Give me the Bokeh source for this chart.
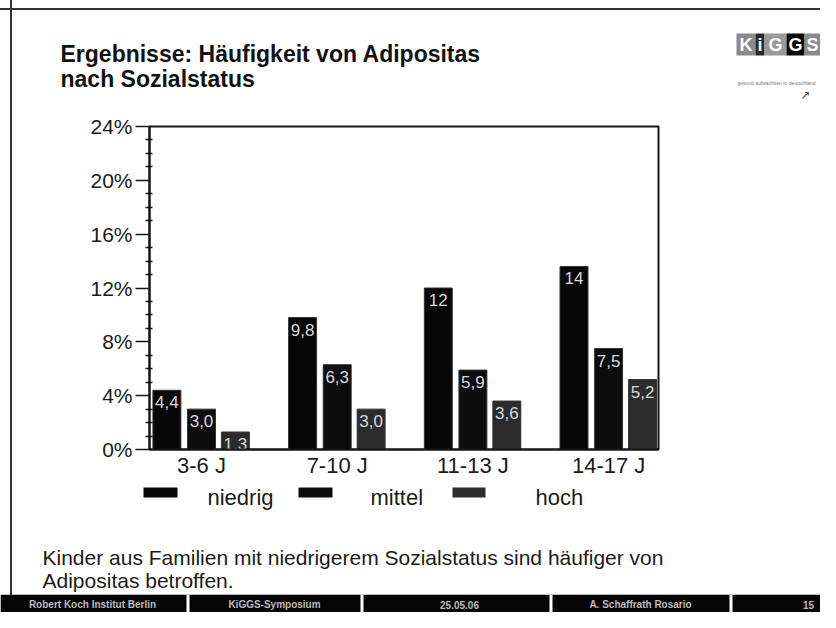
from bokeh.plotting import figure
from bokeh.layouts import column
from bokeh.models import FixedTicker, Range1d, ColumnDataSource
from bokeh.embed import file_html
from bokeh.resources import INLINE
from bokeh.core.properties import value

# ---------------- data ----------------
categories = ["3-6 J", "7-10 J", "11-13 J", "14-17 J"]
series_names = ["niedrig", "mittel", "hoch"]
niedrig = [4.4, 9.8, 12.0, 13.6]
mittel = [3.0, 6.3, 5.9, 7.5]
hoch = [1.3, 3.0, 3.6, 5.2]
niedrig_labels = ["4,4", "9,8", "12", "14"]
mittel_labels = ["3,0", "6,3", "5,9", "7,5"]
hoch_labels = ["1,3", "3,0", "3,6", "5,2"]
y_ticks = [0, 4, 8, 12, 16, 20, 24]
y_tick_labels = ["0%", "4%", "8%", "12%", "16%", "20%", "24%"]
y_minor = [1, 2, 3, 5, 6, 7, 9, 10, 11, 13, 14, 15, 17, 18, 19, 21, 22, 23]

title_lines = ["Ergebnisse: Häufigkeit von Adipositas", "nach Sozialstatus"]
caption_lines = ["Kinder aus Familien mit niedrigerem Sozialstatus sind häufiger von",
                 "Adipositas betroffen."]
footer_texts = ["Robert Koch Institut Berlin", "KiGGS-Symposium", "25.05.06",
                "A. Schaffrath Rosario", "15"]
logo_letters = ["K", "i", "G", "G", "S"]

# ---------------- layout (pixel positions) ----------------
W = 820
A_TOP, B_TOP, C_TOP, D_TOP, BOTTOM = 0, 110, 480, 594, 612
FL, FR, FT, FB = 149, 658, 126, 452          # plot frame
G0, GSTEP = 201, 135.7                         # first group centre, group step
X_LO = (FL - G0) / GSTEP
X_HI = (FR - G0) / GSTEP
Y_MAX = 24
BAR_W = 0.206
OFFS = [-0.255, 0.0, 0.25]
FONT = "Liberation Sans"
colors = ["#060606", "#0d0d0d", "#2c2c2c"]


def aux_fig(top, bottom):
    f = figure(width=W, height=bottom - top, output_backend="svg", toolbar_location=None,
               x_range=Range1d(0, W), y_range=Range1d(bottom, top),
               x_axis_location=None, y_axis_location=None, min_border=0,
               frame_align=False)
    f.xgrid.visible = False
    f.ygrid.visible = False
    f.outline_line_color = None
    f.border_fill_alpha = 0
    f.background_fill_alpha = 0
    return f


# ---------------- header ----------------
fa = aux_fig(A_TOP, B_TOP)
fa.text(x=[60, 60], y=[53, 78], text=title_lines, text_font=value(FONT),
        text_font_style="bold", text_font_size="23px", text_color="#111111",
        text_baseline="alphabetic")
logo_l = [736, 755, 764, 786, 804]
logo_r = [755, 764, 786, 804, 820]
logo_c = ["#8a8a8a", "#2a2a2a", "#9a9a9a", "#0a0a0a", "#8a8a8a"]
fa.quad(left=logo_l, right=logo_r, top=[33] * 5, bottom=[55] * 5,
        fill_color=logo_c, line_color=None)
fa.text(x=[(a + b) / 2 for a, b in zip(logo_l, logo_r)], y=[44] * 5, text=logo_letters,
        text_font=value(FONT), text_font_style="bold", text_font_size="18px",
        text_color="white", text_align="center", text_baseline="middle")
fa.text(x=[737], y=[82], text=["gesund aufwachsen in deutschland"], text_font=value(FONT),
        text_font_size="5px", text_color="#777777", text_baseline="middle")
fa.text(x=[805], y=[94], text=["↗"], text_font=value("DejaVu Sans"), text_font_size="12px",
        text_color="#444444", text_align="center", text_baseline="middle")

# ---------------- chart ----------------
p = figure(width=W, height=C_TOP - B_TOP, output_backend="svg", toolbar_location=None,
           x_range=Range1d(X_LO, X_HI), y_range=Range1d(0, Y_MAX),
           min_border_left=FL, min_border_right=W - FR,
           min_border_top=FT - B_TOP, min_border_bottom=C_TOP - FB,
           frame_align=False)
p.xgrid.visible = False
p.ygrid.visible = False
p.background_fill_color = "white"
p.border_fill_alpha = 0
p.outline_line_color = "#151515"
p.outline_line_width = 2

series = [niedrig, mittel, hoch]
labels = [niedrig_labels, mittel_labels, hoch_labels]
for vals, labs, off, col in zip(series, labels, OFFS, colors):
    xs = [i + off for i in range(len(categories))]
    src = ColumnDataSource(dict(x=xs, top=vals, lab=labs))
    p.vbar(x="x", top="top", width=BAR_W, bottom=0, source=src,
           fill_color=col, line_color="#333333", line_width=1)
    p.text(x="x", y="top", text="lab", source=src, text_align="center",
           text_baseline="top", y_offset=6, text_color="#d9d9d9",
           text_font=value(FONT), text_font_size="17px")

xa = p.xaxis[0]
xa.ticker = FixedTicker(ticks=list(range(len(categories))))
xa.major_label_overrides = {i: c for i, c in enumerate(categories)}
xa.major_tick_line_color = None
xa.minor_tick_line_color = None
xa.major_tick_out = 0
xa.major_tick_in = 0
xa.minor_tick_out = 0
xa.minor_tick_in = 0
xa.axis_line_width = 2
xa.axis_line_color = "#151515"
xa.major_label_text_font = FONT
xa.major_label_text_font_size = "22px"
xa.major_label_text_color = "#1a1a1a"
xa.major_label_standoff = 3

ya = p.yaxis[0]
ya.ticker = FixedTicker(ticks=y_ticks, minor_ticks=y_minor)
ya.major_label_overrides = {t: l for t, l in zip(y_ticks, y_tick_labels)}
ya.axis_line_width = 2
ya.axis_line_color = "#151515"
ya.major_tick_out = 14
ya.major_tick_in = 0
ya.major_tick_line_width = 1.5
ya.major_tick_line_color = "#151515"
ya.minor_tick_out = 4
ya.minor_tick_in = 3
ya.minor_tick_line_width = 1.5
ya.minor_tick_line_color = "#151515"
ya.major_label_text_font = FONT
ya.major_label_text_font_size = "21px"
ya.major_label_text_color = "#1a1a1a"
ya.major_label_standoff = 3

# ---------------- legend + caption ----------------
fc = aux_fig(C_TOP, D_TOP)
leg_l = [143, 298, 452]
leg_r = [177, 332, 485]
leg_tx = [207, 370, 535]
fc.quad(left=leg_l, right=leg_r, top=[487] * 3, bottom=[497] * 3,
        fill_color=colors, line_color=None)
fc.text(x=leg_tx, y=[497] * 3, text=series_names, text_font=value(FONT),
        text_font_size="22px", text_color="#1a1a1a", text_baseline="alphabetic")
fc.text(x=[42, 42], y=[557, 580], text=caption_lines, text_font=value(FONT),
        text_font_size="21px", text_color="#1a1a1a", text_baseline="alphabetic")

# ---------------- footer ----------------
fd = aux_fig(D_TOP, BOTTOM)
fd.quad(left=[0], right=[W], top=[D_TOP], bottom=[BOTTOM], fill_color="#050505",
        line_color=None)
seps = [186, 360, 549, 729]
fd.quad(left=seps, right=[s + 3 for s in seps], top=[D_TOP] * 4, bottom=[BOTTOM] * 4,
        fill_color="white", line_color=None)
fd.text(x=[92, 274, 459, 640, 808], y=[604] * 5, text=footer_texts, text_font=value(FONT),
        text_font_style="bold", text_font_size="10px", text_color="#bbbbbb",
        text_align="center", text_baseline="middle")

bg = ("linear-gradient(to right, transparent 10px, #333 10px, #333 12.5px, transparent 12.5px), "
      "linear-gradient(to bottom, transparent 8px, #333 8px, #333 10.5px, transparent 10.5px), "
      "linear-gradient(to bottom, white, white)")
layout = column(fa, p, fc, fd, spacing=0, styles={"background": bg})

open("out.html", "w").write(file_html(layout, INLINE))
